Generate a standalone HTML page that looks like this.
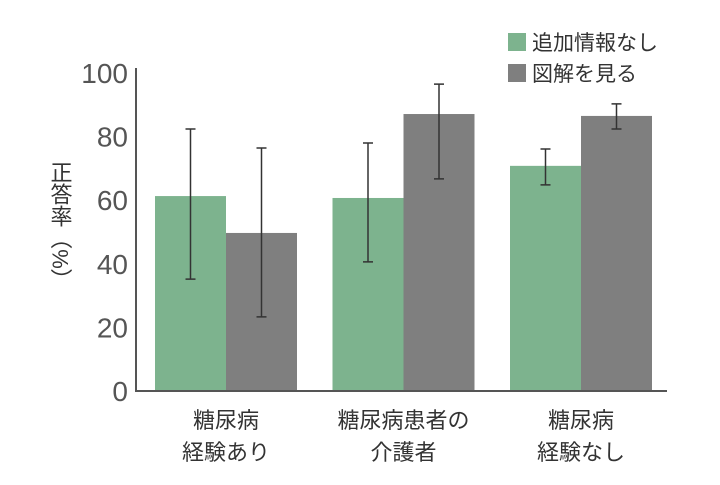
<!DOCTYPE html>
<html><head><meta charset="utf-8"><style>
body{margin:0;background:#fff;width:720px;height:480px;overflow:hidden}
text{font-family:"Liberation Sans","Noto Sans CJK JP",sans-serif}
</style></head><body>
<svg width="720" height="480">
<g id="plot"></g>
<line x1="136" y1="68" x2="136" y2="391" stroke="#555" stroke-width="2"/>
<line x1="135" y1="391" x2="667" y2="391" stroke="#555" stroke-width="2"/>
<text x="60" y="226" font-size="22" fill="#333" writing-mode="tb" text-anchor="middle">正答率（%）</text>
<g>
<rect x="508" y="33" width="18" height="18" fill="#7db38e"/>
<text x="532" y="50" font-size="21" fill="#333">追加情報なし</text>
<rect x="508" y="64" width="18" height="18" fill="#7f7f7f"/>
<text x="532" y="81" font-size="21" fill="#333">図解を見る</text>
</g>
</svg>
<script>
const categories=[["糖尿病","経験あり"],["糖尿病患者の","介護者"],["糖尿病","経験なし"]];
const greenVals=[61.3,60.7,70.8];
const greenLo=[35.2,40.6,64.8];
const greenHi=[82.4,78,76.1];
const grayVals=[49.7,87.1,86.5];
const grayLo=[23.3,66.7,82.4];
const grayHi=[76.4,96.5,90.3];
const ticks=[0,20,40,60,80,100];
const NS="http://www.w3.org/2000/svg";
const g=document.getElementById('plot');
const y=v=>391-v*3.18;
const groupX=i=>155+i*177.5;
const bw=71;
function mk(t,a){const e=document.createElementNS(NS,t);for(const k in a)e.setAttribute(k,a[k]);g.appendChild(e);return e;}
ticks.forEach(t=>{
 const e=mk('text',{x:128,y:y(t)+10,'font-size':28,fill:'#555','text-anchor':'end'});
 e.textContent=t;
 
 
});
function bar(i,off,v,lo,hi,col,nm){
 const x=groupX(i)+off;
 const r=mk('rect',{x:x,y:y(v),width:bw,height:y(0)-y(v),fill:col});
 
 
 const cx=x+bw/2;
 const l=mk('path',{d:`M${cx},${y(hi)}V${y(lo)}M${cx-5},${y(hi)}H${cx+5}M${cx-5},${y(lo)}H${cx+5}`,stroke:'#333','stroke-width':1.5,fill:'none'});
 
 
}
categories.forEach((c,i)=>{
 bar(i,0,greenVals[i],greenLo[i],greenHi[i],'#7db38e','green');
 bar(i,bw,grayVals[i],grayLo[i],grayHi[i],'#7f7f7f','gray');
 c.forEach((s,j)=>{
  const t=mk('text',{x:groupX(i)+bw,y:428+j*32,'font-size':22,fill:'#333','text-anchor':'middle'});
  t.textContent=s;
  
  
 });
});
</script>
</body></html>
